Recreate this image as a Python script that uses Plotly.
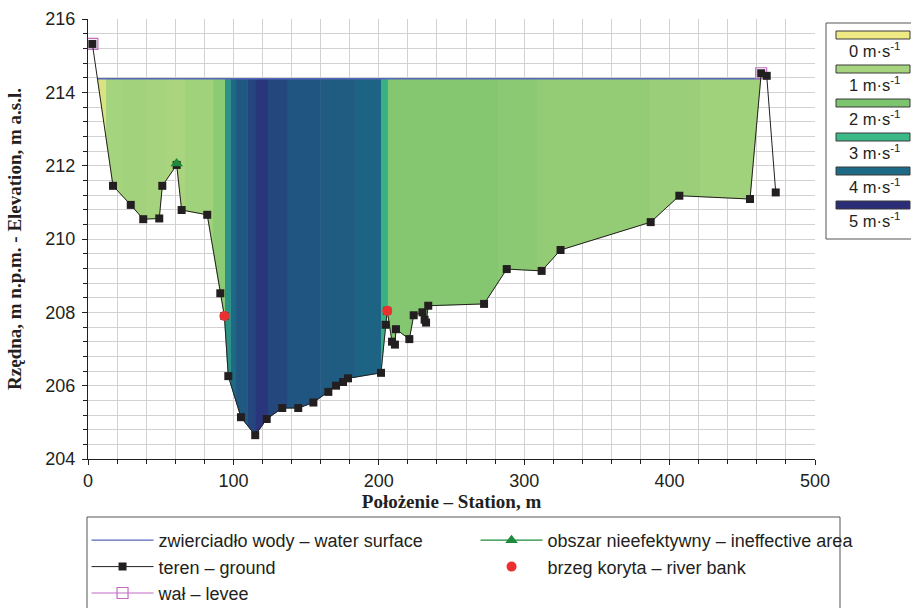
import numpy as np
import plotly.graph_objects as go
import plotly.colors as pc

# ---------------- data ----------------
station = [3.0, 17.2, 29.4, 38.0, 49.0, 51.1, 61.0, 64.4, 82.0, 91.0, 93.8, 96.5,
           105.2, 115.0, 122.9, 133.6, 144.6, 155.0, 165.3, 170.6, 175.4, 178.8,
           201.5, 204.7, 205.8, 209.1, 211.1, 211.8, 221.0, 224.0, 230.0, 231.5,
           232.5, 234.0, 272.4, 288.0, 312.0, 325.0, 387.0, 406.7, 455.3, 463.0,
           466.8, 473.0]
elevation = [215.32, 211.45, 210.93, 210.54, 210.56, 211.45, 212.02, 210.79, 210.66,
             208.52, 207.90, 206.26, 205.14, 204.65, 205.09, 205.39, 205.39, 205.54,
             205.83, 206.00, 206.10, 206.20, 206.35, 207.66, 208.04, 207.20, 207.12,
             207.54, 207.27, 207.92, 208.00, 207.80, 207.72, 208.18, 208.23, 209.18,
             209.13, 209.70, 210.46, 211.18, 211.09, 214.52, 214.45, 211.27]
water_level = 214.37

levee_x = [3.0, 463.0]
levee_y = [215.32, 214.52]
ineffective_x = [61.0]
ineffective_y = [212.06]
bank_x = [93.8, 205.8]
bank_y = [207.90, 208.04]

# velocity strips (interior boundaries, m) and velocity in each strip (m/s)
strip_breaks = [12.4, 22.7, 32.3, 39.9, 53.0, 66.7, 86.0, 94.2, 98.3, 101.8, 110.0,
                114.9, 123.8, 137.5, 160.0, 183.6, 201.5, 206.3, 282.0, 308.8, 386.5,
                420.9]
strip_velocity = [0.3, 1.0, 1.1, 1.05, 1.0, 0.95, 1.15, 1.6, 3.5, 4.0, 4.3, 4.6, 4.85,
                  4.55, 4.35, 4.25, 4.1, 3.1, 1.8, 1.65, 1.45, 1.3, 1.15]

legend_speeds = [0, 1, 2, 3, 4, 5]
legend_colors = ["#f0ea84", "#a6d37d", "#7dc46e", "#3bb987", "#1c6a85", "#2b2d79"]

# ---------------- helpers ----------------
sx = np.array(station)
sy = np.array(elevation)


def ground(x):
    return float(np.interp(x, sx, sy))


def wet_edge(i0, i1):
    x0, y0, x1, y1 = sx[i0], sy[i0], sx[i1], sy[i1]
    t = (y0 - water_level) / (y0 - y1)
    return x0 + t * (x1 - x0)


first_wet = int(np.where(sy < water_level)[0][0])
last_wet = first_wet
while last_wet + 1 < len(sy) and sy[last_wet + 1] < water_level:
    last_wet += 1
left_edge = wet_edge(first_wet - 1, first_wet)
right_edge = wet_edge(last_wet + 1, last_wet)

colorscale = [[v / 5.0, c] for v, c in zip(legend_speeds, legend_colors)]

fig = go.Figure()

bounds = [left_edge] + strip_breaks + [right_edge]
for k, vel in enumerate(strip_velocity):
    a, b = bounds[k], bounds[k + 1]
    inner = [x for x in station if a < x < b]
    xs = [a] + inner + [b]
    ys = [min(ground(x), water_level) for x in xs]
    col = pc.sample_colorscale(colorscale, [vel / 5.0], colortype="rgb")[0]
    fig.add_trace(go.Scatter(
        x=[a, b] + xs[::-1], y=[water_level, water_level] + ys[::-1],
        mode="lines", fill="toself", fillcolor=col,
        line=dict(color=col, width=0.8), showlegend=False, hoverinfo="skip"))

fig.add_trace(go.Scatter(
    x=[left_edge, right_edge], y=[water_level, water_level], mode="lines",
    line=dict(color="#5668b8", width=1.3),
    name="zwierciadło wody – water surface", legendrank=1))

fig.add_trace(go.Scatter(
    x=[levee_x[0], None, levee_x[1]], y=[levee_y[0], None, levee_y[1]],
    mode="lines+markers", connectgaps=False,
    line=dict(color="#c46cc4", width=1.2),
    marker=dict(symbol="square-open", size=11, color="#c46cc4", line=dict(width=1.2)),
    name="wał – levee", legendrank=5))

fig.add_trace(go.Scatter(
    x=station, y=elevation, mode="lines+markers",
    line=dict(color="#231f20", width=1),
    marker=dict(symbol="square", size=8, color="#231f20"),
    name="teren – ground", legendrank=3))

fig.add_trace(go.Scatter(
    x=ineffective_x, y=ineffective_y, mode="lines+markers",
    line=dict(color="#1e8b3c", width=1.2),
    marker=dict(symbol="triangle-up", size=11, color="#1e8b3c"),
    name="obszar nieefektywny – ineffective area", legendrank=2))

fig.add_trace(go.Scatter(
    x=bank_x, y=bank_y, mode="markers",
    marker=dict(symbol="circle", size=10, color="#ec3030"),
    name="brzeg koryta – river bank", legendrank=4))

# ---------------- layout ----------------
PL, PR, PT, PB = 88, 815, 19, 459


def px_x(p):
    return (p - PL) / (PR - PL)


def px_y(p):
    return (PB - p) / (PB - PT)


shapes = []
annotations = []
# bottom legend frame
shapes.append(dict(type="rect", xref="paper", yref="paper",
                   x0=px_x(87), x1=px_x(840), y0=px_y(640), y1=px_y(517),
                   line=dict(color="#555555", width=1), fillcolor="rgba(0,0,0,0)"))
# right velocity legend frame
shapes.append(dict(type="rect", xref="paper", yref="paper",
                   x0=px_x(826), x1=px_x(930), y0=px_y(239), y1=px_y(23),
                   line=dict(color="#555555", width=1), fillcolor="white"))
for i, (v, c) in enumerate(zip(legend_speeds, legend_colors)):
    cy = 35 + i * 34
    shapes.append(dict(type="rect", xref="paper", yref="paper",
                       x0=px_x(836), x1=px_x(910), y0=px_y(cy + 4), y1=px_y(cy - 4),
                       line=dict(color="#3a3a3a", width=1), fillcolor=c))
    annotations.append(dict(xref="paper", yref="paper", x=px_x(847), y=px_y(cy + 15),
                            xanchor="left", yanchor="middle", showarrow=False,
                            text=f"{v} m·s<sup>-1</sup>",
                            font=dict(family="Liberation Sans", size=16.5, color="#231f20")))

axis_font = dict(family="Liberation Sans", size=18, color="#231f20")
title_font = dict(family="Liberation Serif", size=19, color="#231f20", weight="bold")

fig.update_layout(
    width=911, height=608,
    margin=dict(l=PL, r=911 - PR, t=PT, b=608 - PB, autoexpand=False),
    paper_bgcolor="white", plot_bgcolor="white",
    showlegend=True,
    legend=dict(orientation="h", x=-0.002, xanchor="left", y=px_y(522), yanchor="top",
                font=dict(family="Liberation Sans", size=18, color="#231f20"),
                itemwidth=62, entrywidth=312, entrywidthmode="pixels",
                bgcolor="rgba(0,0,0,0)", borderwidth=0, traceorder="normal"),
    shapes=shapes, annotations=annotations,
    xaxis=dict(range=[0, 500], dtick=100, tick0=0, showgrid=True, gridcolor="#d2d2d2",
               gridwidth=1, showline=True, linecolor="#231f20", linewidth=1,
               ticks="outside", ticklen=5, tickcolor="#231f20", tickfont=axis_font,
               zeroline=False, automargin=False,
               minor=dict(dtick=20, showgrid=True, gridcolor="#d2d2d2", gridwidth=1,
                          ticks="outside", ticklen=4, tickcolor="#231f20"),
               title=dict(text="Położenie – Station, m", font=title_font, standoff=4)),
    yaxis=dict(range=[204, 216], dtick=2, tick0=204, showgrid=True, gridcolor="#d2d2d2",
               gridwidth=1, showline=True, linecolor="#231f20", linewidth=1,
               ticks="outside", ticklen=5, tickcolor="#231f20", tickfont=axis_font,
               zeroline=False, ticklabelstandoff=3, automargin=False,
               minor=dict(dtick=0.4, showgrid=True, gridcolor="#d2d2d2", gridwidth=1,
                          ticks="outside", ticklen=4, tickcolor="#231f20"),
               title=dict(text="Rzędna, m n.p.m. - Elevation, m a.s.l.", font=title_font,
                          standoff=18)),
)

fig.write_html("out.html", config={"displayModeBar": False},
               post_script="document.body.style.margin='0';document.body.style.padding='0';")
